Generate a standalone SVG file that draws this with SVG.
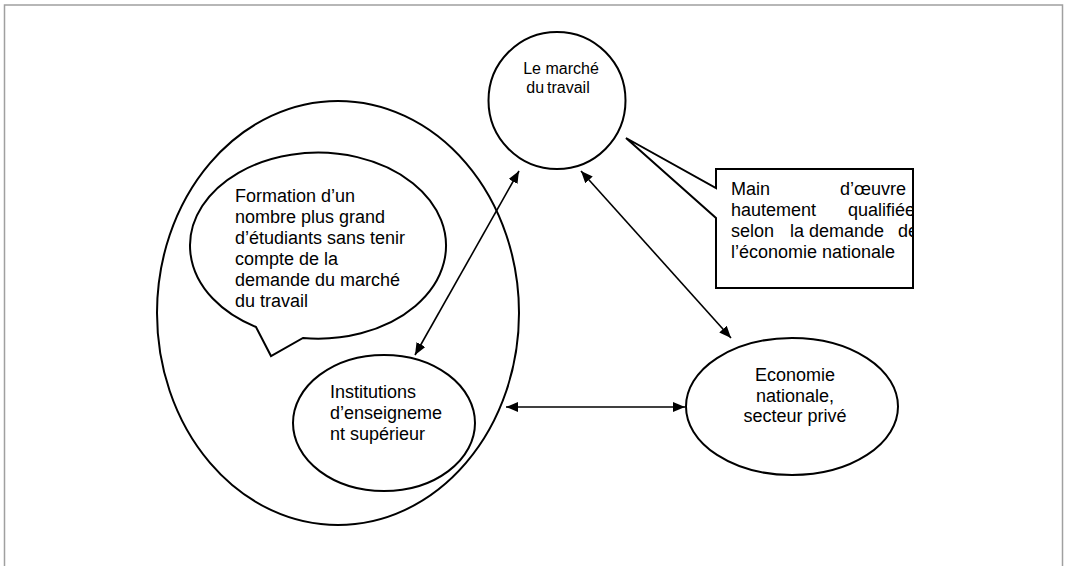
<svg xmlns="http://www.w3.org/2000/svg" width="1065" height="566" viewBox="0 0 1065 566">
<style>
.shape{fill:#fff;stroke:#000;stroke-width:2}
.outline{fill:none;stroke:#000;stroke-width:2}
.t{font-family:"Liberation Sans",Arial,sans-serif;font-size:18px;fill:#000}
.ts{font-family:"Liberation Sans",Arial,sans-serif;font-size:16px;fill:#000}
.conn{stroke:#000;stroke-width:1.6;fill:none;marker-start:url(#ah);marker-end:url(#ah)}
</style>
<defs>
<marker id="ah" viewBox="0 0 12 10" refX="12" refY="5" markerWidth="12" markerHeight="10" markerUnits="userSpaceOnUse" orient="auto-start-reverse">
<path d="M0,0 L12,5 L0,10 Z" fill="#000"/>
</marker>
<clipPath id="boxclip"><rect x="716" y="169" width="197" height="119"/></clipPath>
</defs>
<rect x="4.5" y="5" width="1058" height="600" fill="#fff" stroke="#a0a0a0" stroke-width="1.5"/>

<g id="outer-group">
<ellipse class="outline" cx="338" cy="313" rx="181" ry="212"/>
</g>

<g id="formation">
<path class="shape" d="M256,327 A128,93 0 1 1 303,338 L271,356 Z"/>
<text class="t" x="235" y="202">Formation d’un</text>
<text class="t" x="235" y="223">nombre plus grand</text>
<text class="t" x="235" y="244">d’étudiants sans tenir</text>
<text class="t" x="235" y="265">compte de la</text>
<text class="t" x="235" y="286">demande du marché</text>
<text class="t" x="235" y="307">du travail</text>
</g>

<g id="institutions">
<ellipse class="shape" cx="384" cy="423" rx="91" ry="68"/>
<text class="t" x="330" y="398">Institutions</text>
<text class="t" x="330" y="419">d’enseigneme</text>
<text class="t" x="330" y="440">nt supérieur</text>
</g>

<g id="marche">
<circle class="shape" cx="557" cy="100.5" r="68.5"/>
<text class="ts" x="561" y="74" text-anchor="middle">Le marché</text>
<text class="ts" x="558" y="93" text-anchor="middle" word-spacing="-1.5">du travail</text>
</g>

<g id="callout">
<path class="shape" d="M716,169 H913 V288 H716 V218 L626,138 L716,188 Z"/>
<g clip-path="url(#boxclip)">
<text class="t" x="731" y="195">Main</text>
<text class="t" x="840" y="195">d’œuvre</text>
<text class="t" x="731" y="216">hautement</text>
<text class="t" x="848" y="216">qualifiée</text>
<text class="t" x="731" y="237">selon</text>
<text class="t" x="790" y="237">la</text>
<text class="t" x="809" y="237">demande</text>
<text class="t" x="898" y="237">de</text>
<text class="t" x="731" y="258">l’économie nationale</text>
</g>
</g>

<g id="economie">
<ellipse class="shape" cx="792" cy="406.5" rx="106" ry="68.5"/>
<text class="t" x="795" y="381" text-anchor="middle">Economie</text>
<text class="t" x="795" y="402" text-anchor="middle">nationale,</text>
<text class="t" x="795" y="422" text-anchor="middle">secteur privé</text>
</g>

<g id="connectors">
<line class="conn" x1="415" y1="355" x2="519" y2="171"/>
<line class="conn" x1="581" y1="171" x2="731" y2="338"/>
<line class="conn" x1="506" y1="407" x2="685" y2="407"/>
</g>
</svg>
